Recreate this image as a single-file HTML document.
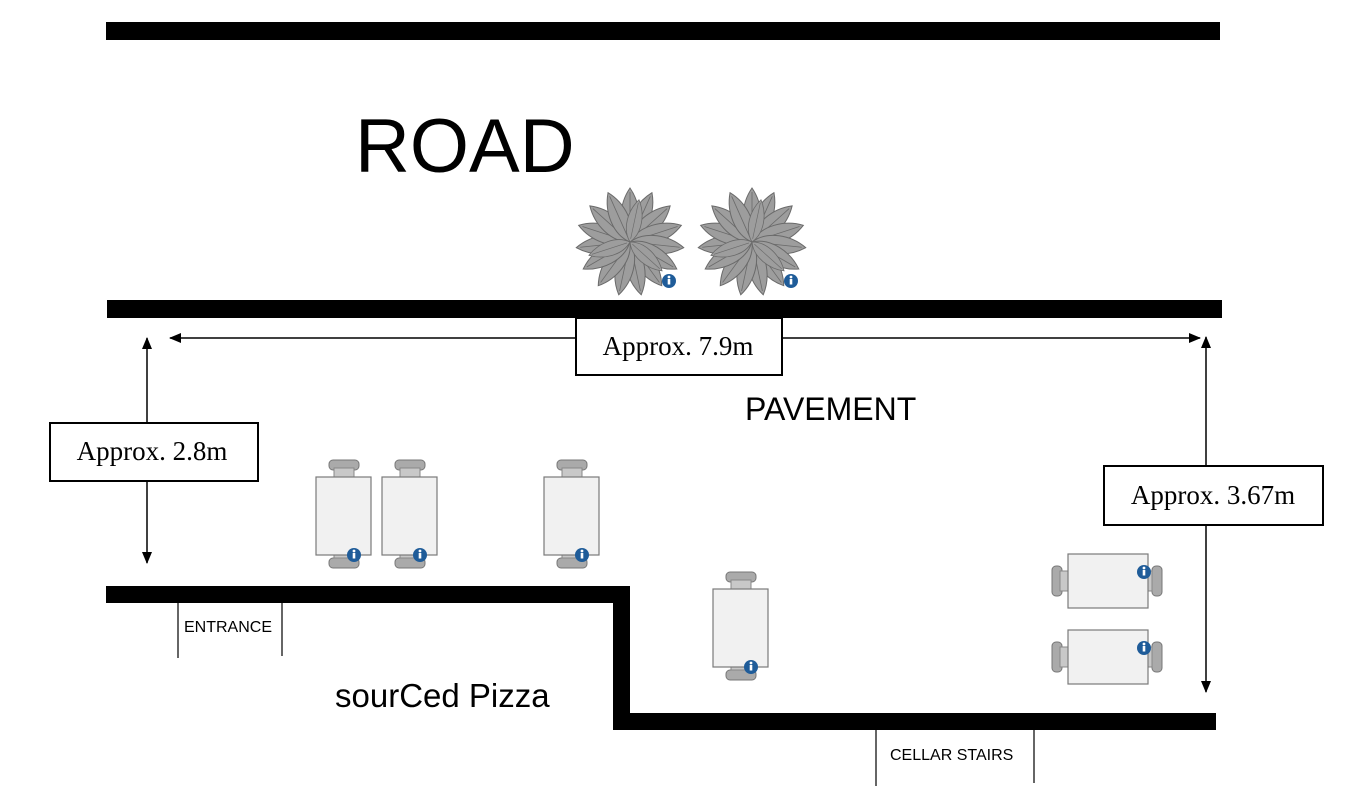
<!DOCTYPE html>
<html><head><meta charset="utf-8"><style>
html,body{margin:0;padding:0;background:#fff;}
svg{display:block;}
</style></head><body>
<svg width="1369" height="802" viewBox="0 0 1369 802" xmlns="http://www.w3.org/2000/svg">
<defs>
<marker id="ah" markerWidth="12" markerHeight="10" refX="11" refY="5" orient="auto" markerUnits="userSpaceOnUse">
<path d="M0,0 L12,5 L0,10 z" fill="#000"/></marker>
<g id="leaf"><path d="M0,0 C13,-14 11,-38 0,-54 C-11,-38 -13,-14 0,0 z" fill="#9d9d9d" stroke="#6a6a6a" stroke-width="1"/><path d="M0,-4 L0,-50" stroke="#6a6a6a" stroke-width="0.8"/></g>
<g id="plant">
<use href="#leaf" transform="rotate(0)"/><use href="#leaf" transform="rotate(24)"/><use href="#leaf" transform="rotate(48)"/><use href="#leaf" transform="rotate(72)"/><use href="#leaf" transform="rotate(96)"/><use href="#leaf" transform="rotate(120)"/><use href="#leaf" transform="rotate(144)"/><use href="#leaf" transform="rotate(168)"/><use href="#leaf" transform="rotate(192)"/><use href="#leaf" transform="rotate(216)"/><use href="#leaf" transform="rotate(240)"/><use href="#leaf" transform="rotate(264)"/><use href="#leaf" transform="rotate(288)"/><use href="#leaf" transform="rotate(312)"/><use href="#leaf" transform="rotate(336)"/>
<use href="#leaf" transform="rotate(12) scale(0.8)"/><use href="#leaf" transform="rotate(132) scale(0.8)"/><use href="#leaf" transform="rotate(252) scale(0.8)"/>
</g>
<g id="info"><circle r="7" fill="#1f5c99"/><rect x="-1.3" y="-2" width="2.6" height="5.5" fill="#fff"/><circle cx="0" cy="-4" r="1.4" fill="#fff"/></g>
<g id="vtable">
<rect x="13" y="0" width="30" height="10" rx="4" fill="#aaa" stroke="#777"/>
<rect x="18" y="8" width="20" height="10" fill="#c8c8c8" stroke="#888"/>
<rect x="13" y="98" width="30" height="10" rx="4" fill="#aaa" stroke="#777"/>
<rect x="18" y="88" width="20" height="10" fill="#c8c8c8" stroke="#888"/>
<rect x="0" y="17" width="55" height="78" fill="#f1f1f1" stroke="#7a7a7a" stroke-width="1.2"/>
<use href="#info" x="38" y="95"/>
</g>
<g id="htable">
<rect x="0" y="12" width="10" height="30" rx="4" fill="#aaa" stroke="#777"/>
<rect x="8" y="17" width="10" height="20" fill="#c8c8c8" stroke="#888"/>
<rect x="100" y="12" width="10" height="30" rx="4" fill="#aaa" stroke="#777"/>
<rect x="90" y="17" width="10" height="20" fill="#c8c8c8" stroke="#888"/>
<rect x="16" y="0" width="80" height="54" fill="#f1f1f1" stroke="#7a7a7a" stroke-width="1.2"/>
<use href="#info" x="92" y="18"/>
</g>
</defs>

<rect x="106" y="22" width="1114" height="18" fill="#000"/>
<text x="355" y="172" font-family="Liberation Sans, sans-serif" font-size="76" fill="#000">ROAD</text>

<use href="#plant" x="630" y="242"/>
<use href="#info" x="669" y="281"/>
<use href="#plant" x="752" y="242"/>
<use href="#info" x="791" y="281"/>

<rect x="107" y="300" width="1115" height="18" fill="#000"/>

<line x1="578" y1="338" x2="170" y2="338" stroke="#000" stroke-width="1.5" marker-end="url(#ah)"/>
<line x1="780" y1="338" x2="1200" y2="338" stroke="#000" stroke-width="1.5" marker-end="url(#ah)"/>
<rect x="576" y="318" width="206" height="57" fill="#fff" stroke="#000" stroke-width="2"/>
<text x="678" y="355" text-anchor="middle" font-family="Liberation Serif, serif" font-size="27">Approx. 7.9m</text>

<line x1="147" y1="425" x2="147" y2="338" stroke="#000" stroke-width="1.5" marker-end="url(#ah)"/>
<line x1="147" y1="480" x2="147" y2="563" stroke="#000" stroke-width="1.5" marker-end="url(#ah)"/>
<rect x="50" y="423" width="208" height="58" fill="#fff" stroke="#000" stroke-width="2"/>
<text x="152" y="460" text-anchor="middle" font-family="Liberation Serif, serif" font-size="27">Approx. 2.8m</text>

<line x1="1206" y1="468" x2="1206" y2="337" stroke="#000" stroke-width="1.5" marker-end="url(#ah)"/>
<line x1="1206" y1="524" x2="1206" y2="692" stroke="#000" stroke-width="1.5" marker-end="url(#ah)"/>
<rect x="1104" y="466" width="219" height="59" fill="#fff" stroke="#000" stroke-width="2"/>
<text x="1213" y="504" text-anchor="middle" font-family="Liberation Serif, serif" font-size="27">Approx. 3.67m</text>

<text x="745" y="420" font-family="Liberation Sans, sans-serif" font-size="32">PAVEMENT</text>

<use href="#vtable" x="316" y="460"/>
<use href="#vtable" x="382" y="460"/>
<use href="#vtable" x="544" y="460"/>
<use href="#vtable" x="713" y="572"/>
<use href="#htable" x="1052" y="554"/>
<use href="#htable" x="1052" y="630"/>

<rect x="106" y="586" width="524" height="17" fill="#000"/>
<rect x="613" y="586" width="17" height="144" fill="#000"/>
<rect x="613" y="713" width="603" height="17" fill="#000"/>

<line x1="178" y1="603" x2="178" y2="658" stroke="#000" stroke-width="1.2"/>
<line x1="282" y1="586" x2="282" y2="656" stroke="#000" stroke-width="1.2"/>
<text x="184" y="632" font-family="Liberation Sans, sans-serif" font-size="16">ENTRANCE</text>

<line x1="876" y1="730" x2="876" y2="786" stroke="#000" stroke-width="1.2"/>
<line x1="1034" y1="730" x2="1034" y2="783" stroke="#000" stroke-width="1.2"/>
<text x="890" y="760" font-family="Liberation Sans, sans-serif" font-size="16">CELLAR STAIRS</text>

<text x="335" y="707" font-family="Liberation Sans, sans-serif" font-size="33">sourCed Pizza</text>
</svg>
</body></html>
